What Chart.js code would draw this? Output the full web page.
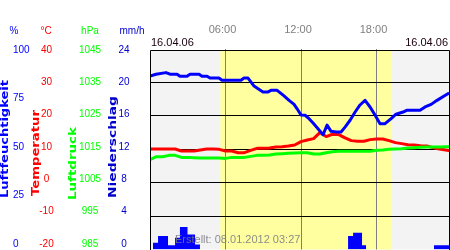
<!DOCTYPE html>
<html>
<head>
<meta charset="utf-8">
<script src="https://cdn.jsdelivr.net/npm/chart.js@4.4.0/dist/chart.umd.min.js"></script>
<style>
  html, body { margin: 0; padding: 0; background: #fff; }
  #wrap { width: 450px; height: 250px; }
</style>
</head>
<body>
<div id="wrap"><canvas id="chart" width="450" height="250"></canvas></div>
<script>
// Tagesverlauf 16.04.06

// Zeitachse (Stunden) fuer Temperatur und Luftdruck
const hours = [0, 0.5, 1, 1.5, 2, 2.5, 3, 3.5, 4, 4.5, 5, 5.5, 6, 6.5, 7, 7.5, 8, 8.5, 9, 9.5,
  10, 10.5, 11, 11.5, 12, 12.5, 13, 13.5, 14, 14.5, 15, 15.5, 16, 16.5, 17, 17.5, 18, 18.5, 19, 19.5,
  20, 20.5, 21, 21.5, 22, 22.5, 23, 23.5, 24];

const temperature = [10.0, 10.0, 10.0, 10.0, 10.0, 9.4, 9.4, 9.4, 9.7, 10.0, 10.0, 9.9, 9.4, 9.4, 8.9, 8.9, 9.6, 10.2, 10.2, 10.3,
  10.6, 10.7, 10.9, 11.2, 12.2, 12.7, 13.1, 14.9, 13.7, 14.4, 14.3, 13.3, 12.5, 12.3, 12.3, 12.8, 13.0, 13.0, 12.5, 11.9,
  11.6, 11.3, 11.2, 11.0, 10.9, 10.4, 10.0, 9.7, 9.4];

const pressure = [1011.8, 1012.7, 1012.7, 1013.1, 1013.1, 1012.5, 1012.5, 1012.4, 1012.3, 1012.3, 1012.3, 1012.3, 1012.2, 1012.5, 1012.5, 1012.5, 1012.8, 1013.1, 1013.1, 1013.2,
  1013.5, 1013.6, 1013.7, 1013.8, 1013.9, 1013.9, 1013.5, 1013.5, 1013.9, 1014.2, 1014.3, 1014.3, 1014.3, 1014.3, 1014.3, 1014.3, 1014.6, 1014.7, 1014.9, 1015.0,
  1015.1, 1015.3, 1015.4, 1015.5, 1015.6, 1015.6, 1015.6, 1015.7, 1015.7];

// Luftfeuchtigkeit mit eigenen Stuetzstellen
const humHours = [0, 0.48, 1.27, 1.59, 2.15, 2.38, 2.94, 3.18, 3.9, 4.13, 4.53, 4.77, 5.48, 5.72, 7.23, 7.47, 7.79,
  8.03, 8.27, 8.59, 8.98, 9.38, 9.62, 10.1, 10.33, 10.65, 11.05, 11.45, 11.69, 12.0, 12.32, 12.64, 12.96,
  13.35, 13.75, 14.07, 14.39, 14.79, 15.18, 15.5, 15.9, 16.3, 16.69, 17.09, 17.49, 17.89, 18.28, 18.68,
  19.16, 19.55, 20.11, 20.43, 21.46, 21.86, 22.34, 22.81, 23.37, 23.77];

const humidity = [86.3, 87.2, 88.0, 87.2, 87.2, 86.2, 86.2, 87.2, 87.2, 86.2, 86.2, 85.3, 85.3, 84.2, 84.2, 85.3, 85.3,
  83.3, 81.3, 80.0, 78.4, 78.4, 79.2, 79.2, 78.0, 76.4, 74.2, 72.2, 70.0, 66.9, 66.8, 65.1, 62.9,
  60.1, 57.1, 61.9, 58.8, 58.5, 58.5, 60.9, 64.3, 68.4, 71.9, 74.2, 70.9, 66.8, 62.6, 62.6,
  65.1, 67.3, 68.4, 69.3, 69.3, 70.9, 72.2, 74.2, 76.4, 77.9];

// Niederschlag als Treppe (Wert gilt bis zur naechsten Stuetzstelle)
const rainHours = [0, 0.24, 0.64, 1.43, 1.99, 2.38, 2.98, 3.58, 3.97, 15.74, 16.14, 16.85, 17.17, 22.57, 23.8];
const rain = [0, 0.8, 1.6, 0.5, 1.4, 2.7, 1.8, 0.6, 0, 1.6, 2.0, 0.5, 0, 0.5, 0.5];

// Achsen
const hourTicks = [6, 12, 18];
const hourLabels = ['06:00', '12:00', '18:00'];
const humTicks = [0, 25, 50, 75, 100];
const tempTicks = [-20, -10, 0, 10, 20, 30, 40];
const presTicks = [985, 995, 1005, 1015, 1025, 1035, 1045];
const rainTicks = [0, 4, 8, 12, 16, 20, 24];
const daylight = [5.59, 19.21];
const dateLabel = '16.04.06';
const createdLabel = 'Erstellt: 08.01.2012 03:27';

const FONT = "'Liberation Sans', Arial, sans-serif";

const colors = {
  hum: '#0000ff',
  temp: '#ff0000',
  pres: '#00ff00',
  rain: '#0000cc',
  night: '#f3f3f3',
  day: '#ffffa0',
  grid: '#000000',
  hourGrid: '#808080'
};

const toXY = (xs, ys) => xs.map((x, i) => ({ x: x, y: ys[i] }));

// Hintergrund, Beschriftung links, Rahmen
const decorPlugin = {
  id: 'decor',
  beforeDraw(chart) {
    const { ctx, chartArea: a, scales } = chart;
    ctx.save();
    ctx.fillStyle = colors.night;
    ctx.fillRect(a.left, 50, a.right - a.left + 0.5, a.bottom - 50);
    const x0 = scales.x.getPixelForValue(daylight[0]);
    const x1 = scales.x.getPixelForValue(daylight[1]);
    ctx.fillStyle = colors.day;
    ctx.fillRect(x0, 50, x1 - x0, a.bottom - 50);
    ctx.restore();
  },
  afterDraw(chart) {
    const { ctx, chartArea: a } = chart;
    ctx.save();

    // Rahmen
    ctx.strokeStyle = '#000';
    ctx.lineWidth = 1;
    ctx.beginPath();
    ctx.moveTo(150.5, 250);
    ctx.lineTo(150.5, 50.5);
    ctx.lineTo(449.5, 50.5);
    ctx.lineTo(449.5, 250);
    ctx.stroke();

    // Einheiten
    ctx.font = '10px ' + FONT;
    ctx.textBaseline = 'middle';
    ctx.textAlign = 'center';
    [['%', 14, colors.hum], ['°C', 46, colors.temp], ['hPa', 90, colors.pres], ['mm/h', 132, colors.rain]]
      .forEach(([t, x, c]) => { ctx.fillStyle = c; ctx.fillText(t, x, 31); });

    // Tick-Beschriftungen der vier Skalen
    const axes = [
      { ticks: humTicks, color: colors.hum, x: 13, align: 'left' },
      { ticks: tempTicks, color: colors.temp, x: 46.5, align: 'center' },
      { ticks: presTicks, color: colors.pres, x: 90, align: 'center' },
      { ticks: rainTicks, color: colors.rain, x: 124, align: 'center' }
    ];
    axes.forEach(ax => {
      const min = ax.ticks[0], max = ax.ticks[ax.ticks.length - 1];
      ctx.fillStyle = ax.color;
      ctx.textAlign = ax.align;
      ax.ticks.forEach(v => {
        const y = 50 + (max - v) / (max - min) * 194;
        ctx.fillText(String(v), ax.x, y);
      });
    });

    // Achsentitel (senkrecht)
    const titles = [
      ['Luftfeuchtigkeit', 7.5, 198, 118, colors.hum],
      ['Temperatur', 39, 196, 86, colors.temp],
      ['Luftdruck', 75.5, 200, 73, colors.pres],
      ['Niederschlag', 115.5, 198, 102, colors.rain]
    ];
    titles.forEach(([text, x, y, len, c]) => {
      ctx.save();
      ctx.translate(x, y);
      ctx.rotate(-Math.PI / 2);
      ctx.font = "bold 10px 'DejaVu Sans', sans-serif";
      const w = ctx.measureText(text).width;
      ctx.scale(len / w, 1);
      ctx.fillStyle = c;
      ctx.textAlign = 'left';
      ctx.textBaseline = 'alphabetic';
      ctx.fillText(text, 0, 0);
      ctx.restore();
    });

    // Datum links / rechts
    ctx.font = '11px ' + FONT;
    ctx.fillStyle = '#1a0010';
    ctx.textBaseline = 'middle';
    ctx.textAlign = 'left';
    ctx.fillText(dateLabel, 151, 43);
    ctx.textAlign = 'right';
    ctx.fillText(dateLabel, 448, 43);

    // Erstellt-Vermerk
    ctx.textAlign = 'left';
    ctx.fillStyle = 'rgba(120,120,130,0.85)';
    ctx.fillText(createdLabel, 175, 240);

    ctx.restore();
  }
};

new Chart(document.getElementById('chart'), {
  type: 'line',
  data: {
    datasets: [
      {
        label: 'Luftfeuchtigkeit',
        data: toXY(humHours, humidity),
        yAxisID: 'yHum',
        borderColor: colors.hum,
        borderWidth: 3
      },
      {
        label: 'Niederschlag',
        data: toXY(rainHours, rain),
        yAxisID: 'yRain',
        stepped: true,
        fill: 'origin',
        borderWidth: 0,
        borderColor: 'rgba(0,0,0,0)',
        backgroundColor: colors.hum
      },
      {
        label: 'Luftdruck',
        data: toXY(hours, pressure),
        yAxisID: 'yPres',
        borderColor: colors.pres,
        borderWidth: 3
      },
      {
        label: 'Temperatur',
        data: toXY(hours, temperature),
        yAxisID: 'yTemp',
        borderColor: colors.temp,
        borderWidth: 3
      }
    ]
  },
  options: {
    responsive: false,
    animation: false,
    devicePixelRatio: 1,
    layout: { padding: { left: 150, right: 0.5, top: 0, bottom: 0.5 } },
    plugins: { legend: { display: false }, tooltip: { enabled: false } },
    elements: {
      point: { radius: 0 },
      line: { tension: 0, borderJoinStyle: 'round', fill: false }
    },
    scales: {
      x: {
        type: 'linear',
        position: 'top',
        min: 0,
        max: 23.8,
        z: 1,
        afterBuildTicks: s => { s.ticks = hourTicks.map(v => ({ value: v })); },
        afterFit: s => { s.height = 48.5; },
        grid: { color: colors.hourGrid, lineWidth: 1, drawTicks: false },
        border: { display: false },
        ticks: {
          color: '#808080',
          font: { size: 11, family: FONT },
          padding: 12,
          labelOffset: -3,
          maxRotation: 0,
          autoSkip: false,
          callback: (v, i) => hourLabels[i]
        }
      },
      yTemp: {
        position: 'left',
        min: -20,
        max: 40,
        z: 1,
        afterBuildTicks: s => { s.ticks = tempTicks.map(v => ({ value: v })); },
        afterFit: s => { s.width = 0; },
        grid: {
          color: c => (c.tick && (c.tick.value === -20 || c.tick.value === 40)) ? 'rgba(0,0,0,0)' : colors.grid,
          lineWidth: 1,
          drawTicks: false
        },
        border: { display: false },
        ticks: { display: false }
      },
      yHum: { display: false, min: 0, max: 100 },
      yPres: { display: false, min: 985, max: 1045 },
      yRain: { display: false, min: 0, max: 24 }
    }
  },
  plugins: [decorPlugin]
});
</script>
</body>
</html>
